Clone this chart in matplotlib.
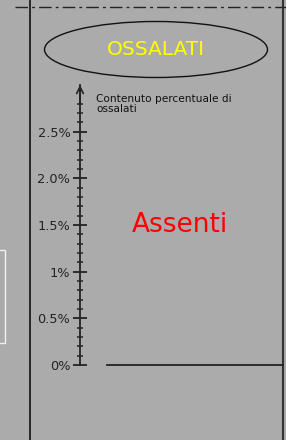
import matplotlib
matplotlib.use("Agg")
import matplotlib.pyplot as plt
from matplotlib.patches import Ellipse, Rectangle
from matplotlib.ticker import FixedLocator

# ---- data ----
title = "OSSALATI"
axis_label = "Contenuto percentuale di\nossalati"
status_text = "Assenti"
major_ticks = [0.0, 0.5, 1.0, 1.5, 2.0, 2.5]
major_labels = ["0%", "0.5%", "1%", "1.5%", "2.0%", "2.5%"]
minor_ticks = [0.1, 0.2, 0.3, 0.4, 0.6, 0.7, 0.8, 0.9, 1.1, 1.2, 1.3, 1.4,
               1.6, 1.7, 1.8, 1.9, 2.1, 2.2, 2.3, 2.4, 2.6, 2.7, 2.8]
axis_max = 3.0
baseline_value = 0.0

W, H = 286, 440
bg = "#ababab"
fig = plt.figure(figsize=(W / 100, H / 100), dpi=100, facecolor=bg)

# overlay axes in pixel coordinates for the drawing frame
ov = fig.add_axes([0, 0, 1, 1])
ov.set_xlim(0, W)
ov.set_ylim(H, 0)
ov.axis("off")
ov.set_facecolor(bg)

ov.plot([30, 30], [0, H], color="#111111", lw=1.2)
ov.plot([283, 283], [0, H], color="#333333", lw=1.5)
ov.plot([15, W], [7, 7], color="#222222", lw=1.0, dashes=[9, 3, 2, 3])
ov.add_patch(Rectangle((-2, 250), 7, 93, fill=False, ec="#f2f2f2", lw=1.0))
ov.add_patch(Ellipse((156, 49.5), 223, 56, fill=False, ec="#111111", lw=1.0))
ov.text(156, 49.5, title, color="#ffff00", fontsize=14.5, ha="center", va="center")
ov.text(96, 104, axis_label, color="#111111", fontsize=7.6, ha="left", va="center",
        linespacing=1.0)
ov.text(180, 225, status_text, color="#ff0000", fontsize=19, ha="center", va="center")

# scale axes
x0, y0, y1 = 80, 365, 85
ax = fig.add_axes([x0 / W, (H - y0) / H, (283 - x0) / W, (y0 - y1) / H])
ax.patch.set_alpha(0)
ax.set_ylim(0, axis_max)
ax.set_xlim(0, 1)
for s in ["top", "right", "bottom"]:
    ax.spines[s].set_visible(False)
ax.spines["left"].set_color("#222222")
ax.spines["left"].set_linewidth(1.3)
ax.set_xticks([])
ax.yaxis.set_major_locator(FixedLocator(major_ticks))
ax.set_yticklabels(major_labels)
ax.yaxis.set_minor_locator(FixedLocator(minor_ticks))
ax.tick_params(axis="y", which="major", direction="inout", length=10, width=1.3,
               color="#222222", labelsize=9.3, labelcolor="#222222", pad=2)
ax.tick_params(axis="y", which="minor", direction="inout", length=5, width=1.1,
               color="#222222")
ax.annotate("", xy=(0, axis_max), xytext=(0, axis_max - 0.2),
            xycoords=("axes fraction", "data"),
            arrowprops=dict(arrowstyle="->", color="#222222", lw=1.2,
                            mutation_scale=12, shrinkA=0, shrinkB=0))
ax.plot([(107 - x0) / (283 - x0), 1], [baseline_value, baseline_value],
        color="#222222", lw=1.3, clip_on=False)

fig.savefig("out.png", dpi=100, facecolor=bg)
